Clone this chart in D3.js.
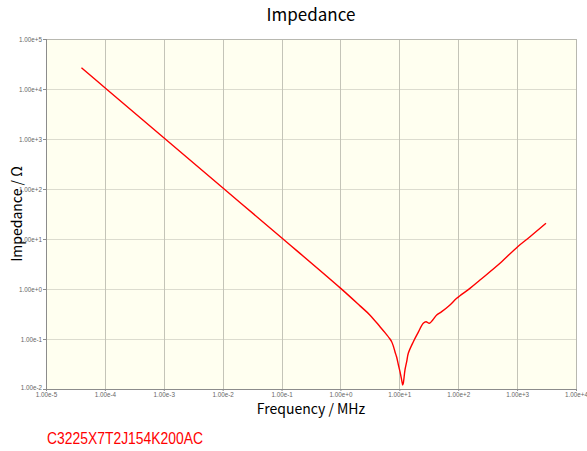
<!DOCTYPE html>
<html lang="en">
<head>
  <meta charset="UTF-8">
  <title>Impedance</title>
  <style>
    body {
      margin: 0;
      padding: 0;
      background: #fff;
    }

    svg {
      display: block;
      font-family: "Noto Sans CJK JP", "DejaVu Sans", sans-serif;
    }

    .grid-v {
      stroke: #c4c4b8;
      stroke-width: 1;
    }

    .grid-h {
      stroke: #dcdccf;
      stroke-width: 1;
    }

    .tick-label {
      font-family: "Liberation Sans", Arial, sans-serif;
      font-size: 6.3px;
      fill: #666;
    }
  </style>
</head>
<body>
  <svg></svg>

  <script src="https://d3js.org/d3.v7.min.js"></script>
  <script>
    const width = 587, height = 451;
    const margin = {top: 39, right: 11, bottom: 62, left: 46};

    // impedance curve (MHz, ohm)
    const freqMHz = [4e-5, 1e-4, 1e-3, 1e-2, 1e-1, 1, 2.15, 3.18, 4.70, 5.71,
      6.94, 7.41, 7.90, 8.43, 9.02, 9.59, 10.26, 10.96, 11.40, 11.67, 12.47,
      13.33, 14.2, 17.3, 20.5, 25.5, 28.4, 32.3, 36.9, 43.1, 52.4, 72.4, 94.2,
      158, 234, 512, 1023, 1656, 3090];
    const impedanceOhm = [26500, 10600, 1060, 106, 10.6, 1.04, 0.46, 0.30,
      0.176, 0.134, 0.100, 0.0883, 0.0724, 0.0557, 0.0431, 0.0312, 0.0222,
      0.0151, 0.0120, 0.0130, 0.0240, 0.0352, 0.0518, 0.0883, 0.130, 0.206,
      0.222, 0.206, 0.240, 0.302, 0.352, 0.479, 0.652, 1.03, 1.51, 3.27, 7.02,
      11.1, 20.6];

    const xTicks = [1e-5, 1e-4, 1e-3, 1e-2, 1e-1, 1e0, 1e1, 1e2, 1e3, 1e4];
    const xTickLabels = ["1.00e-5", "1.00e-4", "1.00e-3", "1.00e-2", "1.00e-1",
      "1.00e+0", "1.00e+1", "1.00e+2", "1.00e+3", "1.00e+4"];
    const yTicks = [1e-2, 1e-1, 1e0, 1e1, 1e2, 1e3, 1e4, 1e5];
    const yTickLabels = ["1.00e-2", "1.00e-1", "1.00e+0", "1.00e+1", "1.00e+2",
      "1.00e+3", "1.00e+4", "1.00e+5"];

    const partName = "C3225X7T2J154K200AC";

    const svg = d3.select("svg")
      .attr("width", width)
      .attr("height", height);

    const x = d3.scaleLog()
      .domain([1e-5, 1e4])
      .range([margin.left, width - margin.right]);

    const y = d3.scaleLog()
      .domain([1e-2, 1e5])
      .range([height - margin.bottom, margin.top]);

    // plot background
    svg.append("rect")
      .attr("x", x.range()[0])
      .attr("y", y.range()[1])
      .attr("width", x.range()[1] - x.range()[0])
      .attr("height", y.range()[0] - y.range()[1])
      .attr("fill", "#fffff0");

    // grid
    svg.append("g")
      .selectAll("line")
      .data(yTicks.slice(1, -1))
      .join("line")
      .attr("class", "grid-h")
      .attr("x1", x.range()[0])
      .attr("x2", x.range()[1])
      .attr("y1", d => Math.round(y(d)) + 0.5)
      .attr("y2", d => Math.round(y(d)) + 0.5);

    svg.append("g")
      .selectAll("line")
      .data(xTicks.slice(1, -1))
      .join("line")
      .attr("class", "grid-v")
      .attr("x1", d => Math.round(x(d)) + 0.5)
      .attr("x2", d => Math.round(x(d)) + 0.5)
      .attr("y1", y.range()[0])
      .attr("y2", y.range()[1]);

    // frame
    svg.append("rect")
      .attr("x", x.range()[0] + 0.5)
      .attr("y", y.range()[1] + 0.5)
      .attr("width", x.range()[1] - x.range()[0])
      .attr("height", y.range()[0] - y.range()[1])
      .attr("fill", "none")
      .attr("stroke", "#b8b8b0");

    svg.append("line")
      .attr("x1", x.range()[0] + 0.5).attr("x2", x.range()[0] + 0.5)
      .attr("y1", y.range()[1]).attr("y2", y.range()[0] + 1)
      .attr("stroke", "#8c8c8c");
    svg.append("line")
      .attr("x1", x.range()[0]).attr("x2", x.range()[1] + 1)
      .attr("y1", y.range()[0] + 0.5).attr("y2", y.range()[0] + 0.5)
      .attr("stroke", "#8c8c8c");

    // axes
    const xAxis = d3.axisBottom(x)
      .tickValues(xTicks)
      .tickSize(2)
      .tickFormat((d, i) => xTickLabels[i]);

    const yAxis = d3.axisLeft(y)
      .tickValues(yTicks)
      .tickSize(3)
      .tickPadding(1)
      .tickFormat((d, i) => yTickLabels[i]);

    const gx = svg.append("g")
      .attr("transform", `translate(0,${y.range()[0]})`)
      .call(xAxis);
    const gy = svg.append("g")
      .attr("transform", `translate(${x.range()[0]},0)`)
      .call(yAxis);

    [gx, gy].forEach(g => {
      g.select(".domain").remove();
      g.selectAll(".tick line").attr("stroke", "#8c8c8c");
      g.selectAll(".tick text").attr("class", "tick-label").attr("font-size", null).attr("font-family", null);
    });
    gx.selectAll(".tick text").attr("dy", "0.6em").attr("y", 4);
    // lowest y label sits just above the x labels, as in the original
    gy.selectAll(".tick text").filter((d, i) => i === 0).attr("dy", "0.1em");

    // curve
    const line = d3.line()
      .x((d, i) => x(freqMHz[i]))
      .y(d => y(d))
      .curve(d3.curveCatmullRom.alpha(0.5));

    svg.append("path")
      .datum(impedanceOhm)
      .attr("fill", "none")
      .attr("stroke", "#ff0000")
      .attr("stroke-width", 1.4)
      .attr("stroke-linejoin", "round")
      .attr("d", line);

    // titles
    svg.append("text")
      .attr("x", 311)
      .attr("y", 21)
      .attr("text-anchor", "middle")
      .attr("font-size", 17)
      .attr("fill", "#000")
      .text("Impedance");

    svg.append("text")
      .attr("x", 311)
      .attr("y", 414)
      .attr("text-anchor", "middle")
      .attr("font-size", 14)
      .attr("fill", "#000")
      .text("Frequency / MHz");

    svg.append("text")
      .attr("transform", `translate(22,${(y.range()[0] + y.range()[1]) / 2}) rotate(-90)`)
      .attr("text-anchor", "middle")
      .attr("font-size", 14)
      .attr("fill", "#000")
      .text("Impedance / Ω");

    svg.append("text")
      .attr("x", 47)
      .attr("y", 444)
      .attr("font-family", "'Liberation Sans', Arial, sans-serif")
      .attr("font-size", 16)
      .attr("textLength", 156)
      .attr("lengthAdjust", "spacingAndGlyphs")
      .attr("fill", "#ff0000")
      .text(partName);
  </script>
</body>
</html>
